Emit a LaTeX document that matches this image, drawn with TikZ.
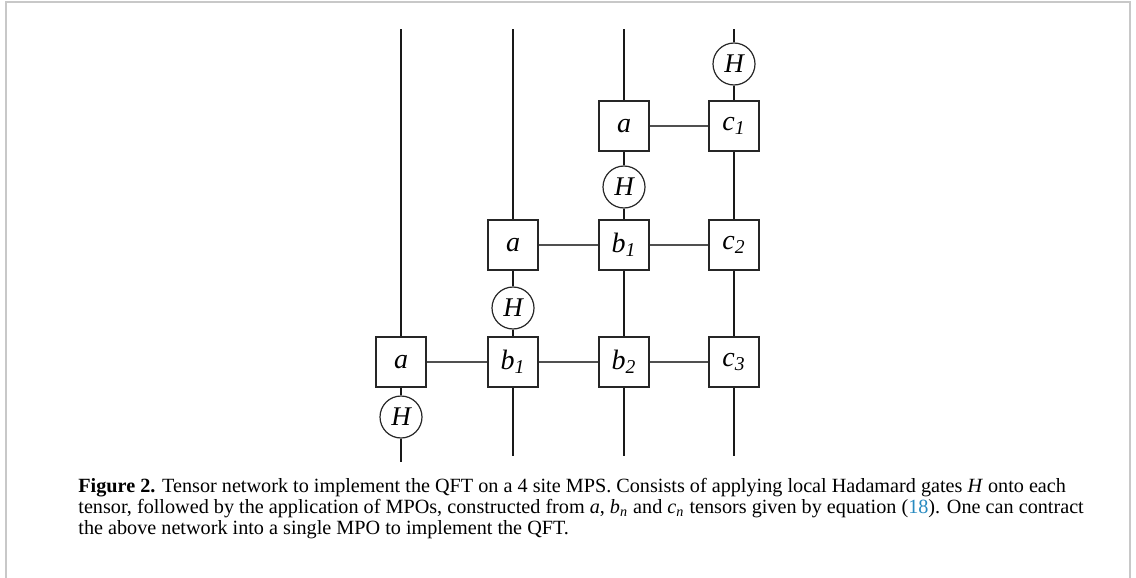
\documentclass[tikz,border=0pt]{standalone}
\usepackage{fontspec}
\setmainfont{Liberation Serif}
\definecolor{framegray}{RGB}{200,200,200}
\definecolor{linkblue}{RGB}{40,138,192}
\definecolor{bondgray}{RGB}{80,80,80}
\tikzset{
  tensor/.style={draw=black!85,line width=0.6pt,minimum size=25pt,inner sep=0pt,fill=white,font=\fontsize{14}{14}\selectfont\itshape},
  gate/.style={circle,draw=black!85,line width=0.6pt,minimum size=21pt,inner sep=0pt,fill=white,font=\fontsize{13.5}{13.5}\selectfont\itshape},
  leg/.style={line width=0.75pt,black!90},
  bond/.style={line width=0.55pt,bondgray},
  captext/.style={anchor=base west,inner sep=0pt,font=\fontsize{10.1}{11}\selectfont},
}
\newcommand{\sbi}[1]{\textsubscript{\itshape #1}}
\begin{document}
\begin{tikzpicture}[x=0.5pt,y=-0.5pt]
\useasboundingbox (0,0) rectangle (1136,578);
\draw[framegray,line width=1pt] (5.5,578) -- (5.5,1.5) -- (1130,1.5) -- (1130,578);
% free ends
\coordinate (t1) at (401,29); \coordinate (t2) at (513,29);
\coordinate (t3) at (624,29); \coordinate (t4) at (734,29);
\coordinate (e1) at (401,462); \coordinate (e2) at (513,456);
\coordinate (e3) at (624,456); \coordinate (e4) at (734,456);
% row 1
\node[tensor] (r1a) at (624,126) {a};
\node[tensor] (r1c) at (734,126) {c\sbi{1}};
% row 2
\node[tensor] (r2a) at (513,245) {a};
\node[tensor] (r2b) at (624,245) {b\sbi{1}};
\node[tensor] (r2c) at (734,245) {c\sbi{2}};
% row 3
\node[tensor] (r3a) at (401,362) {a};
\node[tensor] (r3b1) at (513,362) {b\sbi{1}};
\node[tensor] (r3b2) at (624,362) {b\sbi{2}};
\node[tensor] (r3c) at (734,362) {c\sbi{3}};
% gates
\node[gate] (h4) at (734,64) {H};
\node[gate] (h3) at (624,187) {H};
\node[gate] (h2) at (513,308) {H};
\node[gate] (h1) at (401,417) {H};
% legs
\draw[leg] (t1) -- (r3a); \draw[leg] (r3a) -- (h1); \draw[leg] (h1) -- (e1);
\draw[leg] (t2) -- (r2a); \draw[leg] (r2a) -- (h2); \draw[leg] (h2) -- (r3b1); \draw[leg] (r3b1) -- (e2);
\draw[leg] (t3) -- (r1a); \draw[leg] (r1a) -- (h3); \draw[leg] (h3) -- (r2b); \draw[leg] (r2b) -- (r3b2); \draw[leg] (r3b2) -- (e3);
\draw[leg] (t4) -- (h4); \draw[leg] (h4) -- (r1c); \draw[leg] (r1c) -- (r2c); \draw[leg] (r2c) -- (r3c); \draw[leg] (r3c) -- (e4);
% bonds
\draw[bond] (r1a) -- (r1c);
\draw[bond] (r2a) -- (r2b); \draw[bond] (r2b) -- (r2c);
\draw[bond] (r3a) -- (r3b1); \draw[bond] (r3b1) -- (r3b2); \draw[bond] (r3b2) -- (r3c);
% caption
\node[captext] (cap1) at (78,492) {\textbf{Figure 2.} Tensor network to implement the QFT on a 4 site MPS. Consists of applying local Hadamard gates \textit{H} onto each};
\node[captext] (cap2) at (78,513) {tensor, followed by the application of MPOs, constructed from \textit{a}, \textit{b}\sbi{n} and \textit{c}\sbi{n} tensors given by equation (\textcolor{linkblue}{18}). One can contract};
\node[captext] (cap3) at (78,534) {the above network into a single MPO to implement the QFT.};
\end{tikzpicture}
\end{document}
